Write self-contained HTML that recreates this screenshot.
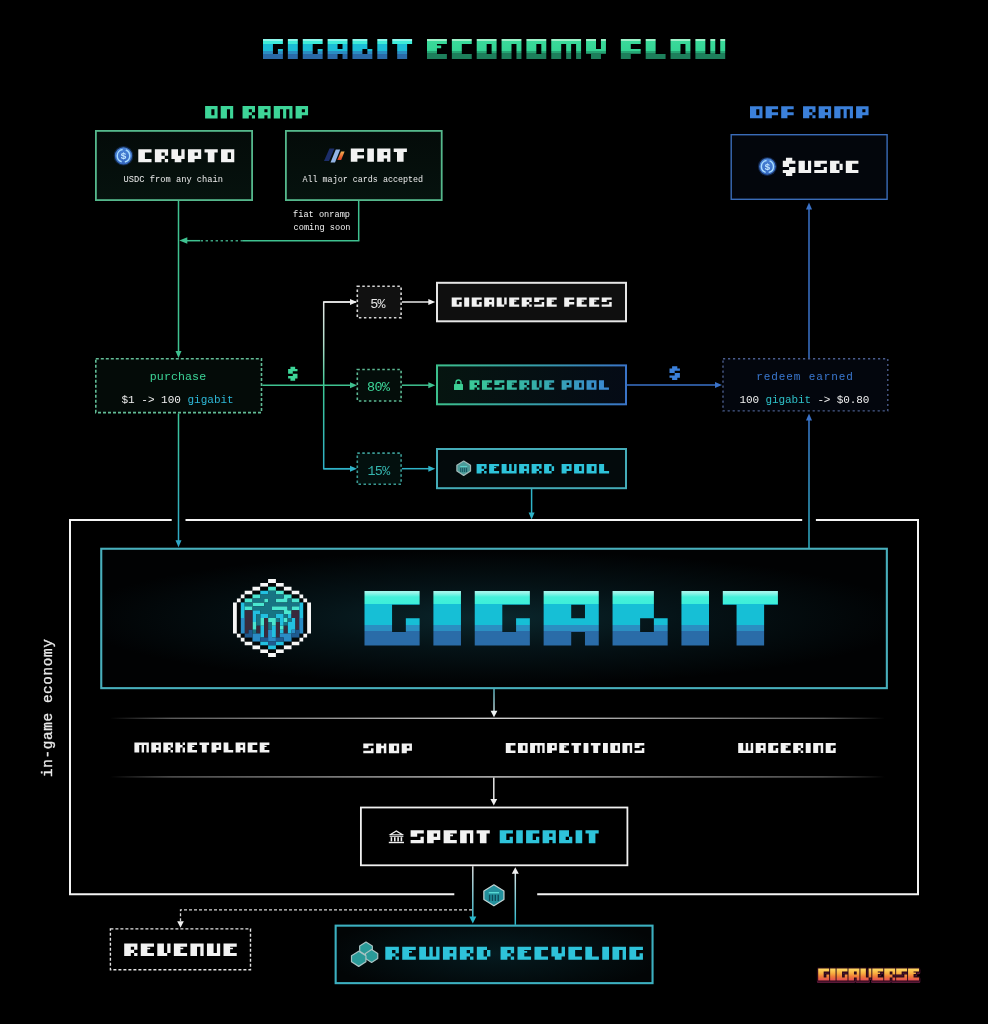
<!DOCTYPE html>
<html><head><meta charset="utf-8"><title>Gigabit Economy Flow</title>
<style>
html,body{margin:0;padding:0;background:#000;width:988px;height:1024px;overflow:hidden;}
svg{display:block;font-family:"Liberation Mono",monospace;will-change:transform;}
</style></head><body>
<svg width="988" height="1024" viewBox="0 0 988 1024" font-family="Liberation Mono">
<defs>
<linearGradient id="gCyanT" gradientUnits="userSpaceOnUse" x1="0" y1="39" x2="0" y2="59">
 <stop offset="0" stop-color="#8ff5ea"/><stop offset="0.12" stop-color="#8ff5ea"/>
 <stop offset="0.12" stop-color="#3eecd9"/><stop offset="0.26" stop-color="#3eecd9"/>
 <stop offset="0.26" stop-color="#1bbdd6"/><stop offset="0.62" stop-color="#1bbdd6"/>
 <stop offset="0.62" stop-color="#2a8dc2"/><stop offset="0.74" stop-color="#2a8dc2"/>
 <stop offset="0.74" stop-color="#2a6aa8"/><stop offset="1" stop-color="#2a6aa8"/>
</linearGradient>
<linearGradient id="gGreenT" gradientUnits="userSpaceOnUse" x1="0" y1="39" x2="0" y2="59">
 <stop offset="0" stop-color="#9ef0c8"/><stop offset="0.12" stop-color="#9ef0c8"/>
 <stop offset="0.12" stop-color="#3ad99a"/><stop offset="0.58" stop-color="#34d494"/>
 <stop offset="0.58" stop-color="#25a674"/><stop offset="0.72" stop-color="#25a674"/>
 <stop offset="0.72" stop-color="#1d7f5b"/><stop offset="1" stop-color="#1d7f5b"/>
</linearGradient>
<linearGradient id="gCyanB" gradientUnits="userSpaceOnUse" x1="0" y1="591" x2="0" y2="645.6">
 <stop offset="0" stop-color="#a6f7ee"/><stop offset="0.03" stop-color="#9af5ea"/>
 <stop offset="0.11" stop-color="#44f0da"/><stop offset="0.245" stop-color="#3cefd9"/>
 <stop offset="0.245" stop-color="#16bfd6"/><stop offset="0.625" stop-color="#16bfd6"/>
 <stop offset="0.625" stop-color="#2a8fc2"/><stop offset="0.74" stop-color="#2a8fc2"/>
 <stop offset="0.74" stop-color="#2a6ca8"/><stop offset="1" stop-color="#2a6ca8"/>
</linearGradient>
<linearGradient id="gResText" gradientUnits="userSpaceOnUse" x1="455" y1="0" x2="610" y2="0">
 <stop offset="0" stop-color="#3ccf94"/><stop offset="0.5" stop-color="#35b0a8"/><stop offset="1" stop-color="#3a86d2"/>
</linearGradient>
<linearGradient id="gResBorder" gradientUnits="userSpaceOnUse" x1="436" y1="0" x2="627" y2="0">
 <stop offset="0" stop-color="#3cbf8c"/><stop offset="0.5" stop-color="#36a0a8"/><stop offset="1" stop-color="#3a74c8"/>
</linearGradient>
<linearGradient id="gResFill" gradientUnits="userSpaceOnUse" x1="436" y1="0" x2="627" y2="0">
 <stop offset="0" stop-color="#061510"/><stop offset="1" stop-color="#050b16"/>
</linearGradient>
<radialGradient id="gGigaFill" gradientUnits="userSpaceOnUse" cx="494" cy="618" r="420" gradientTransform="translate(494 618) scale(1 0.16) translate(-494 -618)">
 <stop offset="0" stop-color="#0a262c"/><stop offset="0.45" stop-color="#051317"/><stop offset="1" stop-color="#010203"/>
</radialGradient>
<radialGradient id="gRecFill" gradientUnits="userSpaceOnUse" cx="494" cy="954" r="170" gradientTransform="translate(494 954) scale(1 0.25) translate(-494 -954)">
 <stop offset="0" stop-color="#051a1f"/><stop offset="1" stop-color="#020506"/>
</radialGradient>
<linearGradient id="gSep" gradientUnits="userSpaceOnUse" x1="110" y1="0" x2="885" y2="0">
 <stop offset="0" stop-color="#666" stop-opacity="0"/><stop offset="0.08" stop-color="#5a5a5a"/><stop offset="0.5" stop-color="#d0d0d0"/>
 <stop offset="0.92" stop-color="#5a5a5a"/><stop offset="1" stop-color="#666" stop-opacity="0"/>
</linearGradient>
<linearGradient id="gV323" gradientUnits="userSpaceOnUse" x1="0" y1="302" x2="0" y2="469">
 <stop offset="0" stop-color="#e8e8e8"/><stop offset="0.25" stop-color="#b0e0cc"/><stop offset="0.5" stop-color="#3cc894"/><stop offset="1" stop-color="#2fb0c8"/>
</linearGradient>
<linearGradient id="gV178" gradientUnits="userSpaceOnUse" x1="0" y1="413" x2="0" y2="547">
 <stop offset="0" stop-color="#3cc59a"/><stop offset="1" stop-color="#2fa8c8"/>
</linearGradient>
<linearGradient id="gV809" gradientUnits="userSpaceOnUse" x1="0" y1="548" x2="0" y2="414">
 <stop offset="0" stop-color="#2fb0c4"/><stop offset="1" stop-color="#3a78d0"/>
</linearGradient>
<linearGradient id="gV473" gradientUnits="userSpaceOnUse" x1="0" y1="866" x2="0" y2="923">
 <stop offset="0" stop-color="#e0e0e0"/><stop offset="1" stop-color="#2ab8cc"/>
</linearGradient>
<linearGradient id="gV515" gradientUnits="userSpaceOnUse" x1="0" y1="924" x2="0" y2="868">
 <stop offset="0" stop-color="#2ab8cc"/><stop offset="1" stop-color="#e8e8e8"/>
</linearGradient>
<linearGradient id="gV494" gradientUnits="userSpaceOnUse" x1="0" y1="689" x2="0" y2="718">
 <stop offset="0" stop-color="#5ab0bc"/><stop offset="1" stop-color="#d8e0e0"/>
</linearGradient>
<linearGradient id="gBoxG" x1="0" y1="0" x2="0" y2="1">
 <stop offset="0" stop-color="#040b09"/><stop offset="1" stop-color="#06120e"/>
</linearGradient>
<linearGradient id="gLogo" gradientUnits="userSpaceOnUse" x1="0" y1="969" x2="0" y2="981">
 <stop offset="0" stop-color="#ffd860"/><stop offset="0.35" stop-color="#f8b040"/><stop offset="0.65" stop-color="#f07838"/><stop offset="1" stop-color="#e04858"/>
</linearGradient>
<linearGradient id="gFiatO" x1="0" y1="0" x2="0" y2="1">
 <stop offset="0" stop-color="#f4b050"/><stop offset="1" stop-color="#e03a20"/>
</linearGradient>
<linearGradient id="gUsdc" x1="0" y1="0" x2="0" y2="1">
 <stop offset="0" stop-color="#4a84d8"/><stop offset="1" stop-color="#3568c0"/>
</linearGradient>
</defs>
<rect width="988" height="1024" fill="#000"/>
<path d="M263 39H282.88V44H263ZM263 44H272.94V49H263ZM263 49H272.94V54H263ZM277.91 49H282.88V54H277.91ZM263 54H282.88V59H263ZM287.85 39H297.79V44H287.85ZM287.85 44H297.79V49H287.85ZM287.85 49H297.79V54H287.85ZM287.85 54H297.79V59H287.85ZM302.76 39H322.64V44H302.76ZM302.76 44H312.7V49H302.76ZM302.76 49H312.7V54H302.76ZM317.67 49H322.64V54H317.67ZM302.76 54H322.64V59H302.76ZM327.61 39H347.49V44H327.61ZM327.61 44H337.55V49H327.61ZM342.52 44H347.49V49H342.52ZM327.61 49H347.49V54H327.61ZM327.61 54H337.55V59H327.61ZM342.52 54H347.49V59H342.52ZM352.46 39H367.37V44H352.46ZM352.46 44H367.37V49H352.46ZM352.46 49H362.4V54H352.46ZM367.37 49H372.34V54H367.37ZM352.46 54H372.34V59H352.46ZM377.31 39H387.25V44H377.31ZM377.31 44H387.25V49H377.31ZM377.31 49H387.25V54H377.31ZM377.31 54H387.25V59H377.31ZM392.22 39H412.1V44H392.22ZM397.19 44H407.13V49H397.19ZM397.19 49H407.13V54H397.19ZM397.19 54H407.13V59H397.19Z" fill="url(#gCyanT)" />
<path d="M427.01 39H446.89V44H427.01ZM427.01 44H436.95V49H427.01ZM427.01 49H436.95V54H427.01ZM427.01 54H446.89V59H427.01ZM436.95 45.5H441.17V48.25H436.95ZM451.86 39H471.74V44H451.86ZM451.86 44H461.8V49H451.86ZM451.86 49H461.8V54H451.86ZM451.86 54H471.74V59H451.86ZM476.71 39H496.59V44H476.71ZM476.71 44H486.65V49H476.71ZM491.62 44H496.59V49H491.62ZM476.71 49H486.65V54H476.71ZM491.62 49H496.59V54H491.62ZM476.71 54H496.59V59H476.71ZM501.56 39H521.44V44H501.56ZM501.56 44H511.5V49H501.56ZM516.47 44H521.44V49H516.47ZM501.56 49H511.5V54H501.56ZM516.47 49H521.44V54H516.47ZM501.56 54H511.5V59H501.56ZM516.47 54H521.44V59H516.47ZM526.41 39H546.29V44H526.41ZM526.41 44H536.35V49H526.41ZM541.32 44H546.29V49H541.32ZM526.41 49H536.35V54H526.41ZM541.32 49H546.29V54H541.32ZM526.41 54H546.29V59H526.41ZM551.26 39H581.08V44H551.26ZM551.26 44H561.2V49H551.26ZM566.17 44H571.14V49H566.17ZM576.11 44H581.08V49H576.11ZM551.26 49H561.2V54H551.26ZM566.17 49H571.14V54H566.17ZM576.11 49H581.08V54H576.11ZM551.26 54H561.2V59H551.26ZM566.17 54H571.14V59H566.17ZM576.11 54H581.08V59H576.11ZM586.05 39H595.99V44H586.05ZM600.96 39H605.93V44H600.96ZM586.05 44H595.99V49H586.05ZM600.96 44H605.93V49H600.96ZM586.05 49H605.93V54H586.05ZM591.02 54H600.96V59H591.02ZM620.84 39H640.72V44H620.84ZM620.84 44H630.78V49H620.84ZM620.84 49H640.72V54H620.84ZM620.84 54H630.78V59H620.84ZM645.69 39H655.63V44H645.69ZM645.69 44H655.63V49H645.69ZM645.69 49H655.63V54H645.69ZM645.69 54H665.57V59H645.69ZM670.54 39H690.42V44H670.54ZM670.54 44H680.48V49H670.54ZM685.45 44H690.42V49H685.45ZM670.54 49H680.48V54H670.54ZM685.45 49H690.42V54H685.45ZM670.54 54H690.42V59H670.54ZM695.39 39H705.33V44H695.39ZM710.3 39H715.27V44H710.3ZM720.24 39H725.21V44H720.24ZM695.39 44H705.33V49H695.39ZM710.3 44H715.27V49H710.3ZM720.24 44H725.21V49H720.24ZM695.39 49H705.33V54H695.39ZM710.3 49H715.27V54H710.3ZM720.24 49H725.21V54H720.24ZM695.39 54H725.21V59H695.39Z" fill="url(#gGreenT)" />
<path d="M205.1 106.1H217.58V109.18H205.1ZM205.1 109.18H211.34V112.26H205.1ZM214.46 109.18H217.58V112.26H214.46ZM205.1 112.26H211.34V115.34H205.1ZM214.46 112.26H217.58V115.34H214.46ZM205.1 115.34H217.58V118.42H205.1ZM220.7 106.1H233.18V109.18H220.7ZM220.7 109.18H226.94V112.26H220.7ZM230.06 109.18H233.18V112.26H230.06ZM220.7 112.26H226.94V115.34H220.7ZM230.06 112.26H233.18V115.34H230.06ZM220.7 115.34H226.94V118.42H220.7ZM230.06 115.34H233.18V118.42H230.06ZM242.54 106.1H255.02V109.18H242.54ZM242.54 109.18H248.78V112.26H242.54ZM251.9 109.18H255.02V112.26H251.9ZM242.54 112.26H251.9V115.34H242.54ZM242.54 115.34H248.78V118.42H242.54ZM251.9 115.34H255.02V118.42H251.9ZM258.14 106.1H270.62V109.18H258.14ZM258.14 109.18H264.38V112.26H258.14ZM267.5 109.18H270.62V112.26H267.5ZM258.14 112.26H270.62V115.34H258.14ZM258.14 115.34H264.38V118.42H258.14ZM267.5 115.34H270.62V118.42H267.5ZM273.74 106.1H292.46V109.18H273.74ZM273.74 109.18H279.98V112.26H273.74ZM283.1 109.18H286.22V112.26H283.1ZM289.34 109.18H292.46V112.26H289.34ZM273.74 112.26H279.98V115.34H273.74ZM283.1 112.26H286.22V115.34H283.1ZM289.34 112.26H292.46V115.34H289.34ZM273.74 115.34H279.98V118.42H273.74ZM283.1 115.34H286.22V118.42H283.1ZM289.34 115.34H292.46V118.42H289.34ZM295.58 106.1H308.06V109.18H295.58ZM295.58 109.18H301.82V112.26H295.58ZM304.94 109.18H308.06V112.26H304.94ZM295.58 112.26H308.06V115.34H295.58ZM295.58 115.34H301.82V118.42H295.58Z" fill="#3dd598" />
<path d="M750 106.2H762.48V109.2H750ZM750 109.2H756.24V112.2H750ZM759.36 109.2H762.48V112.2H759.36ZM750 112.2H756.24V115.2H750ZM759.36 112.2H762.48V115.2H759.36ZM750 115.2H762.48V118.2H750ZM765.6 106.2H778.08V109.2H765.6ZM765.6 109.2H771.84V112.2H765.6ZM765.6 112.2H778.08V115.2H765.6ZM765.6 115.2H771.84V118.2H765.6ZM781.2 106.2H793.68V109.2H781.2ZM781.2 109.2H787.44V112.2H781.2ZM781.2 112.2H793.68V115.2H781.2ZM781.2 115.2H787.44V118.2H781.2ZM803.04 106.2H815.52V109.2H803.04ZM803.04 109.2H809.28V112.2H803.04ZM812.4 109.2H815.52V112.2H812.4ZM803.04 112.2H812.4V115.2H803.04ZM803.04 115.2H809.28V118.2H803.04ZM812.4 115.2H815.52V118.2H812.4ZM818.64 106.2H831.12V109.2H818.64ZM818.64 109.2H824.88V112.2H818.64ZM828 109.2H831.12V112.2H828ZM818.64 112.2H831.12V115.2H818.64ZM818.64 115.2H824.88V118.2H818.64ZM828 115.2H831.12V118.2H828ZM834.24 106.2H852.96V109.2H834.24ZM834.24 109.2H840.48V112.2H834.24ZM843.6 109.2H846.72V112.2H843.6ZM849.84 109.2H852.96V112.2H849.84ZM834.24 112.2H840.48V115.2H834.24ZM843.6 112.2H846.72V115.2H843.6ZM849.84 112.2H852.96V115.2H849.84ZM834.24 115.2H840.48V118.2H834.24ZM843.6 115.2H846.72V118.2H843.6ZM849.84 115.2H852.96V118.2H849.84ZM856.08 106.2H868.56V109.2H856.08ZM856.08 109.2H862.32V112.2H856.08ZM865.44 109.2H868.56V112.2H865.44ZM856.08 112.2H868.56V115.2H856.08ZM856.08 115.2H862.32V118.2H856.08Z" fill="#3b80da" />
<rect x="95.9" y="130.9" width="156.2" height="69.2" fill="url(#gBoxG)" stroke="#55b88c" stroke-width="1.8" />
<path d="M138.3 149.2H151.54V152.45H138.3ZM138.3 152.45H144.92V155.7H138.3ZM138.3 155.7H144.92V158.95H138.3ZM138.3 158.95H151.54V162.2H138.3ZM154.85 149.2H168.09V152.45H154.85ZM154.85 152.45H161.47V155.7H154.85ZM164.78 152.45H168.09V155.7H164.78ZM154.85 155.7H164.78V158.95H154.85ZM154.85 158.95H161.47V162.2H154.85ZM164.78 158.95H168.09V162.2H164.78ZM171.4 149.2H178.02V152.45H171.4ZM181.33 149.2H184.64V152.45H181.33ZM171.4 152.45H178.02V155.7H171.4ZM181.33 152.45H184.64V155.7H181.33ZM171.4 155.7H184.64V158.95H171.4ZM174.71 158.95H181.33V162.2H174.71ZM187.95 149.2H201.19V152.45H187.95ZM187.95 152.45H194.57V155.7H187.95ZM197.88 152.45H201.19V155.7H197.88ZM187.95 155.7H201.19V158.95H187.95ZM187.95 158.95H194.57V162.2H187.95ZM204.5 149.2H217.74V152.45H204.5ZM207.81 152.45H214.43V155.7H207.81ZM207.81 155.7H214.43V158.95H207.81ZM207.81 158.95H214.43V162.2H207.81ZM221.05 149.2H234.29V152.45H221.05ZM221.05 152.45H227.67V155.7H221.05ZM230.98 152.45H234.29V155.7H230.98ZM221.05 155.7H227.67V158.95H221.05ZM230.98 155.7H234.29V158.95H230.98ZM221.05 158.95H234.29V162.2H221.05Z" fill="#f2f2f2" />
<rect x="285.9" y="130.9" width="155.8" height="69.2" fill="url(#gBoxG)" stroke="#55b88c" stroke-width="1.8" />
<path d="M350.8 148.6H364V151.9H350.8ZM350.8 151.9H357.4V155.2H350.8ZM350.8 155.2H364V158.5H350.8ZM350.8 158.5H357.4V161.8H350.8ZM367.3 148.6H373.9V151.9H367.3ZM367.3 151.9H373.9V155.2H367.3ZM367.3 155.2H373.9V158.5H367.3ZM367.3 158.5H373.9V161.8H367.3ZM377.2 148.6H390.4V151.9H377.2ZM377.2 151.9H383.8V155.2H377.2ZM387.1 151.9H390.4V155.2H387.1ZM377.2 155.2H390.4V158.5H377.2ZM377.2 158.5H383.8V161.8H377.2ZM387.1 158.5H390.4V161.8H387.1ZM393.7 148.6H406.9V151.9H393.7ZM397 151.9H403.6V155.2H397ZM397 155.2H403.6V158.5H397ZM397 158.5H403.6V161.8H397Z" fill="#f2f2f2" />
<rect x="731.2" y="134.7" width="155.9" height="64.6" fill="#03060c" stroke="#3a6cb8" stroke-width="1.4" />
<path d="M785.95 157.75H792.25V160.8H785.95ZM782.8 160.8H795.4V163.85H782.8ZM782.8 163.85H789.1V166.9H782.8ZM789.1 166.9H795.4V169.95H789.1ZM782.8 169.95H795.4V173H782.8ZM785.95 173H792.25V176.05H785.95ZM798.55 160.8H804.85V163.85H798.55ZM808 160.8H811.15V163.85H808ZM798.55 163.85H804.85V166.9H798.55ZM808 163.85H811.15V166.9H808ZM798.55 166.9H804.85V169.95H798.55ZM808 166.9H811.15V169.95H808ZM798.55 169.95H811.15V173H798.55ZM814.3 160.8H826.9V163.85H814.3ZM814.3 163.85H820.6V166.9H814.3ZM823.75 166.9H826.9V169.95H823.75ZM814.3 169.95H826.9V173H814.3ZM830.05 160.8H839.5V163.85H830.05ZM830.05 163.85H836.35V166.9H830.05ZM839.5 163.85H842.65V166.9H839.5ZM830.05 166.9H836.35V169.95H830.05ZM839.5 166.9H842.65V169.95H839.5ZM830.05 169.95H839.5V173H830.05ZM845.8 160.8H858.4V163.85H845.8ZM845.8 163.85H852.1V166.9H845.8ZM845.8 166.9H852.1V169.95H845.8ZM845.8 169.95H858.4V173H845.8Z" fill="#f2f2f2" />
<circle cx="123.5" cy="155.8" r="9.8" fill="#2a5cb8" opacity="0.35"/><circle cx="123.5" cy="155.8" r="8.6" fill="url(#gUsdc)"/><circle cx="123.5" cy="155.8" r="6.28" fill="none" stroke="#a8dcff" stroke-width="1.46" stroke-dasharray="16.44 3.29" stroke-dashoffset="8.22"/><text x="123.5" y="159.24" font-size="9.89" fill="#c0e6ff" text-anchor="middle" font-family="Liberation Sans" font-weight="bold">$</text>
<circle cx="767.4" cy="166.5" r="9.5" fill="#2a5cb8" opacity="0.35"/><circle cx="767.4" cy="166.5" r="8.3" fill="url(#gUsdc)"/><circle cx="767.4" cy="166.5" r="6.06" fill="none" stroke="#a8dcff" stroke-width="1.41" stroke-dasharray="15.86 3.17" stroke-dashoffset="7.93"/><text x="767.4" y="169.82" font-size="9.54" fill="#c0e6ff" text-anchor="middle" font-family="Liberation Sans" font-weight="bold">$</text>
<polygon points="324,161 329,161 334.5,148.5 329.5,148.5" fill="#1c2e6a"/><polygon points="330.5,162.5 335,162.5 340.2,149.5 335.8,149.5" fill="#93b4e6"/><polygon points="337.3,160 341.2,160 344.6,151.5 341,151.5" fill="url(#gFiatO)"/>
<text x="173.3" y="181.8" font-size="8.7" fill="#ececec" text-anchor="middle" letter-spacing="0.02" >USDC from any chain</text>
<text x="362.8" y="181.8" font-size="8.4" fill="#ececec" text-anchor="middle" letter-spacing="0" >All major cards accepted</text>
<text x="350" y="217.3" font-size="8.6" fill="#f2f2f2" text-anchor="end" letter-spacing="0.02" >fiat onramp</text>
<text x="350.5" y="230.4" font-size="8.6" fill="#f2f2f2" text-anchor="end" letter-spacing="0.02" >coming soon</text>
<line x1="178.5" y1="201" x2="178.5" y2="352" stroke="#3fc190" stroke-width="1.5" />
<polygon points="178.5,358 175.5,351 181.5,351" fill="#3fc190"/>
<line x1="358.7" y1="201" x2="358.7" y2="240.5" stroke="#3fc190" stroke-width="1.5" />
<line x1="359.4" y1="240.7" x2="243" y2="240.7" stroke="#3fc190" stroke-width="1.5" />
<line x1="243" y1="240.7" x2="200" y2="240.7" stroke="#3aa07e" stroke-width="1.5" stroke-dasharray="2.4 2.6"/>
<line x1="200" y1="240.7" x2="184" y2="240.7" stroke="#3fc190" stroke-width="1.5" />
<polygon points="179.3,240.5 187.3,237.25 187.3,243.75" fill="#3fc190"/>
<rect x="95.8" y="358.8" width="165.7" height="53.8" fill="#040b08" stroke="#62bc96" stroke-width="1.6" stroke-dasharray="3 2"/>
<text x="178" y="380.4" font-size="11.6" fill="#3dd598" text-anchor="middle" letter-spacing="0.1" >purchase</text>
<text x="121.5" y="403.2" font-size="11" fill="#f0f0f0" text-anchor="start" letter-spacing="0" >$1 -&gt; 100 <tspan fill="#2eb8d8">gigabit</tspan></text>
<line x1="262.3" y1="385.3" x2="350" y2="385.3" stroke="#3fc190" stroke-width="1.5" />
<polygon points="357,385.3 350,382.3 350,388.3" fill="#3fc190"/>
<path d="M290.45 366.63H295.15V369H290.45ZM288.1 369H297.5V371.37H288.1ZM288.1 371.37H292.8V373.74H288.1ZM292.8 373.74H297.5V376.11H292.8ZM288.1 376.11H297.5V378.48H288.1ZM290.45 378.48H295.15V380.85H290.45Z" fill="#3dd598" />
<path d="M356 302 H323.7 V468.7 H350" fill="none" stroke="url(#gV323)" stroke-width="1.5"/>
<line x1="323.7" y1="302" x2="350" y2="302" stroke="#e8e8e8" stroke-width="1.5" />
<line x1="323.7" y1="468.7" x2="350" y2="468.7" stroke="#2fb3c8" stroke-width="1.5" />
<polygon points="357,302 350,299 350,305" fill="#eeeeee"/>
<polygon points="357,468.7 350,465.7 350,471.7" fill="#2fb3c8"/>
<rect x="357.3" y="286.3" width="43.8" height="31.5" fill="#111111" stroke="#d8d8d8" stroke-width="1.6" stroke-dasharray="2.5 2.5"/>
<rect x="357.3" y="369.5" width="43.8" height="31.5" fill="#040d0a" stroke="#5cb892" stroke-width="1.6" stroke-dasharray="2.5 2.5"/>
<rect x="357.3" y="453.1" width="43.8" height="31.1" fill="#03100e" stroke="#3a9a94" stroke-width="1.6" stroke-dasharray="2.5 2.5"/>
<text x="377.6" y="308.3" font-size="13.4" fill="#e6e6e6" text-anchor="middle" letter-spacing="-0.6" >5%</text>
<text x="378.2" y="391.3" font-size="13.4" fill="#3dd598" text-anchor="middle" letter-spacing="-0.6" >80%</text>
<text x="378.6" y="474.8" font-size="13.4" fill="#35b5ae" text-anchor="middle" letter-spacing="-0.6" >15%</text>
<line x1="401.9" y1="302" x2="429" y2="302" stroke="#e8e8e8" stroke-width="1.5" />
<polygon points="435.3,302 428.3,299 428.3,305" fill="#f0f0f0"/>
<line x1="401.9" y1="385.2" x2="429" y2="385.2" stroke="#3fc190" stroke-width="1.5" />
<polygon points="435.3,385.2 428.3,382.2 428.3,388.2" fill="#3fc190"/>
<line x1="401.9" y1="468.7" x2="429" y2="468.7" stroke="#2fb3c8" stroke-width="1.5" />
<polygon points="435.3,468.7 428.3,465.7 428.3,471.7" fill="#2fb3c8"/>
<rect x="437" y="282.8" width="189" height="38.5" fill="#0f0f0f" stroke="#e6e6e6" stroke-width="2" />
<path d="M451.7 297.4H461.7V299.75H451.7ZM451.7 299.75H456.7V302.1H451.7ZM451.7 302.1H456.7V304.45H451.7ZM459.2 302.1H461.7V304.45H459.2ZM451.7 304.45H461.7V306.8H451.7ZM464.2 297.4H469.2V299.75H464.2ZM464.2 299.75H469.2V302.1H464.2ZM464.2 302.1H469.2V304.45H464.2ZM464.2 304.45H469.2V306.8H464.2ZM471.7 297.4H481.7V299.75H471.7ZM471.7 299.75H476.7V302.1H471.7ZM471.7 302.1H476.7V304.45H471.7ZM479.2 302.1H481.7V304.45H479.2ZM471.7 304.45H481.7V306.8H471.7ZM484.2 297.4H494.2V299.75H484.2ZM484.2 299.75H489.2V302.1H484.2ZM491.7 299.75H494.2V302.1H491.7ZM484.2 302.1H494.2V304.45H484.2ZM484.2 304.45H489.2V306.8H484.2ZM491.7 304.45H494.2V306.8H491.7ZM496.7 297.4H501.7V299.75H496.7ZM504.2 297.4H506.7V299.75H504.2ZM496.7 299.75H501.7V302.1H496.7ZM504.2 299.75H506.7V302.1H504.2ZM496.7 302.1H501.7V304.45H496.7ZM504.2 302.1H506.7V304.45H504.2ZM496.7 304.45H504.2V306.8H496.7ZM509.2 297.4H519.2V299.75H509.2ZM509.2 299.75H514.2V302.1H509.2ZM509.2 302.1H514.2V304.45H509.2ZM509.2 304.45H519.2V306.8H509.2ZM514.2 300.45H516.33V301.75H514.2ZM521.7 297.4H531.7V299.75H521.7ZM521.7 299.75H526.7V302.1H521.7ZM529.2 299.75H531.7V302.1H529.2ZM521.7 302.1H529.2V304.45H521.7ZM521.7 304.45H526.7V306.8H521.7ZM529.2 304.45H531.7V306.8H529.2ZM534.2 297.4H544.2V299.75H534.2ZM534.2 299.75H539.2V302.1H534.2ZM541.7 302.1H544.2V304.45H541.7ZM534.2 304.45H544.2V306.8H534.2ZM546.7 297.4H556.7V299.75H546.7ZM546.7 299.75H551.7V302.1H546.7ZM546.7 302.1H551.7V304.45H546.7ZM546.7 304.45H556.7V306.8H546.7ZM551.7 300.45H553.83V301.75H551.7ZM564.2 297.4H574.2V299.75H564.2ZM564.2 299.75H569.2V302.1H564.2ZM564.2 302.1H574.2V304.45H564.2ZM564.2 304.45H569.2V306.8H564.2ZM576.7 297.4H586.7V299.75H576.7ZM576.7 299.75H581.7V302.1H576.7ZM576.7 302.1H581.7V304.45H576.7ZM576.7 304.45H586.7V306.8H576.7ZM581.7 300.45H583.83V301.75H581.7ZM589.2 297.4H599.2V299.75H589.2ZM589.2 299.75H594.2V302.1H589.2ZM589.2 302.1H594.2V304.45H589.2ZM589.2 304.45H599.2V306.8H589.2ZM594.2 300.45H596.33V301.75H594.2ZM601.7 297.4H611.7V299.75H601.7ZM601.7 299.75H606.7V302.1H601.7ZM609.2 302.1H611.7V304.45H609.2ZM601.7 304.45H611.7V306.8H601.7Z" fill="#f2f2f2" />
<rect x="437" y="365.4" width="189" height="38.9" fill="url(#gResFill)" stroke="url(#gResBorder)" stroke-width="2" />
<path d="M469.5 380.3H479.46V382.68H469.5ZM469.5 382.68H474.48V385.06H469.5ZM476.97 382.68H479.46V385.06H476.97ZM469.5 385.06H476.97V387.44H469.5ZM469.5 387.44H474.48V389.82H469.5ZM476.97 387.44H479.46V389.82H476.97ZM481.95 380.3H491.91V382.68H481.95ZM481.95 382.68H486.93V385.06H481.95ZM481.95 385.06H486.93V387.44H481.95ZM481.95 387.44H491.91V389.82H481.95ZM486.93 383.39H489.05V384.7H486.93ZM494.4 380.3H504.36V382.68H494.4ZM494.4 382.68H499.38V385.06H494.4ZM501.87 385.06H504.36V387.44H501.87ZM494.4 387.44H504.36V389.82H494.4ZM506.85 380.3H516.81V382.68H506.85ZM506.85 382.68H511.83V385.06H506.85ZM506.85 385.06H511.83V387.44H506.85ZM506.85 387.44H516.81V389.82H506.85ZM511.83 383.39H513.95V384.7H511.83ZM519.3 380.3H529.26V382.68H519.3ZM519.3 382.68H524.28V385.06H519.3ZM526.77 382.68H529.26V385.06H526.77ZM519.3 385.06H526.77V387.44H519.3ZM519.3 387.44H524.28V389.82H519.3ZM526.77 387.44H529.26V389.82H526.77ZM531.75 380.3H536.73V382.68H531.75ZM539.22 380.3H541.71V382.68H539.22ZM531.75 382.68H536.73V385.06H531.75ZM539.22 382.68H541.71V385.06H539.22ZM531.75 385.06H536.73V387.44H531.75ZM539.22 385.06H541.71V387.44H539.22ZM531.75 387.44H539.22V389.82H531.75ZM544.2 380.3H554.16V382.68H544.2ZM544.2 382.68H549.18V385.06H544.2ZM544.2 385.06H549.18V387.44H544.2ZM544.2 387.44H554.16V389.82H544.2ZM549.18 383.39H551.3V384.7H549.18ZM561.63 380.3H571.59V382.68H561.63ZM561.63 382.68H566.61V385.06H561.63ZM569.1 382.68H571.59V385.06H569.1ZM561.63 385.06H571.59V387.44H561.63ZM561.63 387.44H566.61V389.82H561.63ZM574.08 380.3H584.04V382.68H574.08ZM574.08 382.68H579.06V385.06H574.08ZM581.55 382.68H584.04V385.06H581.55ZM574.08 385.06H579.06V387.44H574.08ZM581.55 385.06H584.04V387.44H581.55ZM574.08 387.44H584.04V389.82H574.08ZM586.53 380.3H596.49V382.68H586.53ZM586.53 382.68H591.51V385.06H586.53ZM594 382.68H596.49V385.06H594ZM586.53 385.06H591.51V387.44H586.53ZM594 385.06H596.49V387.44H594ZM586.53 387.44H596.49V389.82H586.53ZM598.98 380.3H603.96V382.68H598.98ZM598.98 382.68H603.96V385.06H598.98ZM598.98 385.06H603.96V387.44H598.98ZM598.98 387.44H608.94V389.82H598.98Z" fill="url(#gResText)" />
<g fill="#3ccf94"><rect x="454" y="384" width="9" height="6" rx="0.5"/><path d="M456 384.5 V382.5 A2.5 2.5 0 0 1 461 382.5 V384.5" fill="none" stroke="#3ccf94" stroke-width="1.4"/></g>
<rect x="437" y="449" width="189" height="39.2" fill="#030a0c" stroke="#44acb8" stroke-width="2" />
<path d="M476.6 463.9H486.6V466.28H476.6ZM476.6 466.28H481.6V468.66H476.6ZM484.1 466.28H486.6V468.66H484.1ZM476.6 468.66H484.1V471.04H476.6ZM476.6 471.04H481.6V473.42H476.6ZM484.1 471.04H486.6V473.42H484.1ZM489.1 463.9H499.1V466.28H489.1ZM489.1 466.28H494.1V468.66H489.1ZM489.1 468.66H494.1V471.04H489.1ZM489.1 471.04H499.1V473.42H489.1ZM494.1 466.99H496.23V468.3H494.1ZM501.6 463.9H506.6V466.28H501.6ZM509.1 463.9H511.6V466.28H509.1ZM514.1 463.9H516.6V466.28H514.1ZM501.6 466.28H506.6V468.66H501.6ZM509.1 466.28H511.6V468.66H509.1ZM514.1 466.28H516.6V468.66H514.1ZM501.6 468.66H506.6V471.04H501.6ZM509.1 468.66H511.6V471.04H509.1ZM514.1 468.66H516.6V471.04H514.1ZM501.6 471.04H516.6V473.42H501.6ZM519.1 463.9H529.1V466.28H519.1ZM519.1 466.28H524.1V468.66H519.1ZM526.6 466.28H529.1V468.66H526.6ZM519.1 468.66H529.1V471.04H519.1ZM519.1 471.04H524.1V473.42H519.1ZM526.6 471.04H529.1V473.42H526.6ZM531.6 463.9H541.6V466.28H531.6ZM531.6 466.28H536.6V468.66H531.6ZM539.1 466.28H541.6V468.66H539.1ZM531.6 468.66H539.1V471.04H531.6ZM531.6 471.04H536.6V473.42H531.6ZM539.1 471.04H541.6V473.42H539.1ZM544.1 463.9H551.6V466.28H544.1ZM544.1 466.28H549.1V468.66H544.1ZM551.6 466.28H554.1V468.66H551.6ZM544.1 468.66H549.1V471.04H544.1ZM551.6 468.66H554.1V471.04H551.6ZM544.1 471.04H551.6V473.42H544.1ZM561.6 463.9H571.6V466.28H561.6ZM561.6 466.28H566.6V468.66H561.6ZM569.1 466.28H571.6V468.66H569.1ZM561.6 468.66H571.6V471.04H561.6ZM561.6 471.04H566.6V473.42H561.6ZM574.1 463.9H584.1V466.28H574.1ZM574.1 466.28H579.1V468.66H574.1ZM581.6 466.28H584.1V468.66H581.6ZM574.1 468.66H579.1V471.04H574.1ZM581.6 468.66H584.1V471.04H581.6ZM574.1 471.04H584.1V473.42H574.1ZM586.6 463.9H596.6V466.28H586.6ZM586.6 466.28H591.6V468.66H586.6ZM594.1 466.28H596.6V468.66H594.1ZM586.6 468.66H591.6V471.04H586.6ZM594.1 468.66H596.6V471.04H594.1ZM586.6 471.04H596.6V473.42H586.6ZM599.1 463.9H604.1V466.28H599.1ZM599.1 466.28H604.1V468.66H599.1ZM599.1 468.66H604.1V471.04H599.1ZM599.1 471.04H609.1V473.42H599.1Z" fill="#2ec3da" />
<line x1="626.8" y1="385.1" x2="716" y2="385.1" stroke="#3a72c8" stroke-width="1.5" />
<polygon points="722,385.1 715,382.1 715,388.1" fill="#3a72c8"/>
<path d="M672.1 366.2H677.3V368.5H672.1ZM669.5 368.5H679.9V370.8H669.5ZM669.5 370.8H674.7V373.1H669.5ZM674.7 373.1H679.9V375.4H674.7ZM669.5 375.4H679.9V377.7H669.5ZM672.1 377.7H677.3V380H672.1Z" fill="#3b80da" />
<rect x="723" y="358.7" width="164.8" height="52.2" fill="#03060d" stroke="#4a5c8c" stroke-width="1.4" stroke-dasharray="2.2 2.8"/>
<text x="804.9" y="380.2" font-size="11" fill="#3a78d0" text-anchor="middle" letter-spacing="0.9" >redeem earned</text>
<text x="739.6" y="403.3" font-size="11" fill="#f0f0f0" text-anchor="start" letter-spacing="-0.12" >100 <tspan fill="#2ec0c8">gigabit</tspan> -&gt; $0.80</text>
<line x1="809" y1="358" x2="809" y2="208" stroke="#3a72c8" stroke-width="1.5" />
<polygon points="809,202.5 806,209.5 812,209.5" fill="#3a72c8"/>
<line x1="809" y1="548" x2="809" y2="419" stroke="url(#gV809)" stroke-width="1.5" />
<polygon points="809,413.5 806,420.5 812,420.5" fill="#3a72c8"/>
<line x1="531.6" y1="488.8" x2="531.6" y2="513" stroke="#2fb3c8" stroke-width="1.5" />
<polygon points="531.6,519.5 528.6,512.5 534.6,512.5" fill="#2fb3c8"/>
<line x1="178.5" y1="413.4" x2="178.5" y2="541" stroke="url(#gV178)" stroke-width="1.5" />
<polygon points="178.5,547.2 175.5,540.2 181.5,540.2" fill="#2fa8c8"/>
<path d="M171.7 520 H70 V894.3 H454.3 M537.2 894.3 H918 V520 H815.9 M802.2 520 H185.5" fill="none" stroke="#f4f4f4" stroke-width="2"/>
<text transform="translate(52.3 777) rotate(-90)" font-size="14.4" fill="#e8e8e8" stroke="#e8e8e8" stroke-width="0.3" letter-spacing="0.6">in-game economy</text>
<rect x="101.25" y="548.75" width="785.6" height="139.4" fill="url(#gGigaFill)" stroke="#48afbc" stroke-width="2.1" />
<path d="M364.5 591H419.62V604.65H364.5ZM364.5 604.65H392.06V618.3H364.5ZM364.5 618.3H392.06V631.95H364.5ZM405.84 618.3H419.62V631.95H405.84ZM364.5 631.95H419.62V645.6H364.5ZM433.4 591H460.96V604.65H433.4ZM433.4 604.65H460.96V618.3H433.4ZM433.4 618.3H460.96V631.95H433.4ZM433.4 631.95H460.96V645.6H433.4ZM474.74 591H529.86V604.65H474.74ZM474.74 604.65H502.3V618.3H474.74ZM474.74 618.3H502.3V631.95H474.74ZM516.08 618.3H529.86V631.95H516.08ZM474.74 631.95H529.86V645.6H474.74ZM543.64 591H598.76V604.65H543.64ZM543.64 604.65H571.2V618.3H543.64ZM584.98 604.65H598.76V618.3H584.98ZM543.64 618.3H598.76V631.95H543.64ZM543.64 631.95H571.2V645.6H543.64ZM584.98 631.95H598.76V645.6H584.98ZM612.54 591H653.88V604.65H612.54ZM612.54 604.65H653.88V618.3H612.54ZM612.54 618.3H640.1V631.95H612.54ZM653.88 618.3H667.66V631.95H653.88ZM612.54 631.95H667.66V645.6H612.54ZM681.44 591H709V604.65H681.44ZM681.44 604.65H709V618.3H681.44ZM681.44 618.3H709V631.95H681.44ZM681.44 631.95H709V645.6H681.44ZM722.78 591H777.9V604.65H722.78ZM736.56 604.65H764.12V618.3H736.56ZM736.56 618.3H764.12V631.95H736.56ZM736.56 631.95H764.12V645.6H736.56Z" fill="url(#gCyanB)" />
<path d="M268.1 579H275.9V582.9H268.1ZM260.3 582.9H283.7V586.8H260.3ZM252.5 586.8H291.5V590.7H252.5ZM244.7 590.7H299.3V594.6H244.7ZM240.8 594.6H303.2V598.5H240.8ZM236.9 598.5H307.1V602.4H236.9ZM233 602.4H311V606.3H233ZM233 606.3H311V610.2H233ZM233 610.2H311V614.1H233ZM233 614.1H311V618H233ZM233 618H311V621.9H233ZM233 621.9H311V625.8H233ZM233 625.8H311V629.7H233ZM233 629.7H311V633.6H233ZM236.9 633.6H307.1V637.5H236.9ZM240.8 637.5H303.2V641.4H240.8ZM244.7 641.4H299.3V645.3H244.7ZM252.5 645.3H291.5V649.2H252.5ZM260.3 649.2H283.7V653.1H260.3ZM268.1 653.1H275.9V657H268.1Z" fill="#0a1a20"/><path d="M268.1 579H275.9V582.9H268.1ZM260.3 582.9H268.1V586.8H260.3ZM275.9 582.9H283.7V586.8H275.9ZM252.5 586.8H260.3V590.7H252.5ZM283.7 586.8H291.5V590.7H283.7ZM244.7 590.7H252.5V594.6H244.7ZM291.5 590.7H299.3V594.6H291.5ZM240.8 594.6H244.7V598.5H240.8ZM299.3 594.6H303.2V598.5H299.3ZM236.9 598.5H240.8V602.4H236.9ZM303.2 598.5H307.1V602.4H303.2ZM233 602.4H236.9V606.3H233ZM307.1 602.4H311V606.3H307.1ZM233 606.3H236.9V610.2H233ZM307.1 606.3H311V610.2H307.1ZM233 610.2H236.9V614.1H233ZM307.1 610.2H311V614.1H307.1ZM233 614.1H236.9V618H233ZM307.1 614.1H311V618H307.1ZM233 618H236.9V621.9H233ZM307.1 618H311V621.9H307.1ZM233 621.9H236.9V625.8H233ZM307.1 621.9H311V625.8H307.1ZM233 625.8H236.9V629.7H233ZM307.1 625.8H311V629.7H307.1ZM233 629.7H236.9V633.6H233ZM307.1 629.7H311V633.6H307.1ZM236.9 633.6H240.8V637.5H236.9ZM303.2 633.6H307.1V637.5H303.2ZM240.8 637.5H244.7V641.4H240.8ZM299.3 637.5H303.2V641.4H299.3ZM244.7 641.4H252.5V645.3H244.7ZM291.5 641.4H299.3V645.3H291.5ZM252.5 645.3H260.3V649.2H252.5ZM283.7 645.3H291.5V649.2H283.7ZM260.3 649.2H268.1V653.1H260.3ZM275.9 649.2H283.7V653.1H275.9ZM268.1 653.1H275.9V657H268.1Z" fill="#f6f6f6"/><path d="M268.1 582.9H275.9V586.8H268.1ZM260.3 586.8H268.1V590.7H260.3ZM275.9 586.8H283.7V590.7H275.9ZM252.5 590.7H260.3V594.6H252.5ZM283.7 590.7H291.5V594.6H283.7ZM244.7 594.6H252.5V598.5H244.7ZM291.5 594.6H299.3V598.5H291.5ZM240.8 598.5H244.7V602.4H240.8ZM299.3 598.5H303.2V602.4H299.3ZM236.9 602.4H240.8V606.3H236.9ZM303.2 602.4H307.1V606.3H303.2ZM236.9 606.3H240.8V610.2H236.9ZM303.2 606.3H307.1V610.2H303.2ZM236.9 610.2H240.8V614.1H236.9ZM303.2 610.2H307.1V614.1H303.2ZM236.9 614.1H240.8V618H236.9ZM303.2 614.1H307.1V618H303.2ZM236.9 618H240.8V621.9H236.9ZM303.2 618H307.1V621.9H303.2ZM236.9 621.9H240.8V625.8H236.9ZM303.2 621.9H307.1V625.8H303.2ZM236.9 625.8H240.8V629.7H236.9ZM303.2 625.8H307.1V629.7H303.2ZM236.9 629.7H240.8V633.6H236.9ZM303.2 629.7H307.1V633.6H303.2ZM240.8 633.6H244.7V637.5H240.8ZM299.3 633.6H303.2V637.5H299.3ZM244.7 637.5H252.5V641.4H244.7ZM291.5 637.5H299.3V641.4H291.5ZM252.5 641.4H260.3V645.3H252.5ZM283.7 641.4H291.5V645.3H283.7ZM260.3 645.3H268.1V649.2H260.3ZM275.9 645.3H283.7V649.2H275.9ZM268.1 649.2H275.9V653.1H268.1Z" fill="#040809"/><path d="M268.1 586.8H275.9V590.7H268.1ZM275.9 590.7H283.7V594.6H275.9ZM252.5 594.6H260.3V598.5H252.5ZM283.7 594.6H291.5V598.5H283.7ZM244.7 598.5H252.5V602.4H244.7ZM264.2 598.5H268.1V602.4H264.2ZM275.9 598.5H287.6V602.4H275.9ZM291.5 598.5H299.3V602.4H291.5ZM252.5 602.4H264.2V606.3H252.5ZM244.7 606.3H252.5V610.2H244.7ZM272 606.3H287.6V610.2H272ZM291.5 606.3H299.3V610.2H291.5ZM283.7 610.2H291.5V614.1H283.7ZM260.3 618H264.2V621.9H260.3ZM268.1 618H275.9V621.9H268.1ZM283.7 618H287.6V621.9H283.7ZM252.5 621.9H256.4V625.8H252.5ZM260.3 621.9H264.2V625.8H260.3ZM272 621.9H275.9V625.8H272ZM252.5 625.8H256.4V629.7H252.5ZM279.8 625.8H283.7V629.7H279.8Z" fill="#4ae6d0"/><path d="M260.3 590.7H268.1V594.6H260.3ZM240.8 602.4H244.7V606.3H240.8ZM299.3 602.4H303.2V606.3H299.3ZM240.8 606.3H244.7V610.2H240.8ZM299.3 606.3H303.2V610.2H299.3ZM240.8 610.2H244.7V614.1H240.8ZM252.5 610.2H260.3V614.1H252.5ZM299.3 610.2H303.2V614.1H299.3ZM240.8 614.1H244.7V618H240.8ZM252.5 614.1H256.4V618H252.5ZM260.3 614.1H268.1V618H260.3ZM275.9 614.1H283.7V618H275.9ZM287.6 614.1H291.5V618H287.6ZM299.3 614.1H303.2V618H299.3ZM252.5 618H256.4V621.9H252.5ZM279.8 618H283.7V621.9H279.8ZM291.5 618H295.4V621.9H291.5ZM279.8 621.9H283.7V625.8H279.8ZM287.6 621.9H295.4V625.8H287.6ZM260.3 625.8H264.2V629.7H260.3ZM272 625.8H275.9V629.7H272ZM287.6 625.8H295.4V629.7H287.6ZM260.3 629.7H264.2V633.6H260.3ZM272 629.7H275.9V633.6H272ZM279.8 629.7H283.7V633.6H279.8ZM287.6 629.7H291.5V633.6H287.6ZM260.3 633.6H264.2V637.5H260.3ZM272 633.6H275.9V637.5H272ZM260.3 641.4H268.1V645.3H260.3ZM275.9 641.4H283.7V645.3H275.9ZM268.1 645.3H275.9V649.2H268.1Z" fill="#22c0e0"/><path d="M268.1 590.7H275.9V594.6H268.1ZM260.3 594.6H283.7V598.5H260.3ZM252.5 598.5H264.2V602.4H252.5ZM268.1 598.5H275.9V602.4H268.1ZM287.6 598.5H291.5V602.4H287.6ZM244.7 602.4H252.5V606.3H244.7ZM264.2 602.4H299.3V606.3H264.2ZM252.5 606.3H272V610.2H252.5ZM287.6 606.3H291.5V610.2H287.6ZM260.3 610.2H283.7V614.1H260.3ZM256.4 614.1H260.3V618H256.4ZM268.1 614.1H275.9V618H268.1ZM283.7 614.1H287.6V618H283.7ZM256.4 618H260.3V621.9H256.4ZM275.9 618H279.8V621.9H275.9ZM287.6 618H291.5V621.9H287.6ZM256.4 621.9H260.3V625.8H256.4ZM268.1 621.9H272V625.8H268.1ZM283.7 621.9H287.6V625.8H283.7ZM268.1 625.8H272V629.7H268.1ZM252.5 629.7H256.4V633.6H252.5Z" fill="#177484"/><path d="M244.7 610.2H252.5V614.1H244.7ZM291.5 610.2H299.3V614.1H291.5ZM244.7 614.1H252.5V618H244.7ZM291.5 614.1H299.3V618H291.5ZM244.7 618H252.5V621.9H244.7ZM264.2 618H268.1V621.9H264.2ZM295.4 618H299.3V621.9H295.4ZM244.7 621.9H252.5V625.8H244.7ZM264.2 621.9H268.1V625.8H264.2ZM275.9 621.9H279.8V625.8H275.9ZM295.4 621.9H299.3V625.8H295.4ZM244.7 625.8H252.5V629.7H244.7ZM256.4 625.8H260.3V629.7H256.4ZM264.2 625.8H268.1V629.7H264.2ZM275.9 625.8H279.8V629.7H275.9ZM283.7 625.8H287.6V629.7H283.7ZM295.4 625.8H299.3V629.7H295.4ZM244.7 629.7H248.6V633.6H244.7ZM256.4 629.7H260.3V633.6H256.4ZM264.2 629.7H268.1V633.6H264.2ZM275.9 629.7H279.8V633.6H275.9ZM283.7 629.7H287.6V633.6H283.7ZM264.2 633.6H268.1V637.5H264.2ZM275.9 633.6H279.8V637.5H275.9Z" fill="#3a2a3c"/><path d="M240.8 618H244.7V621.9H240.8ZM299.3 618H303.2V621.9H299.3ZM240.8 621.9H244.7V625.8H240.8ZM299.3 621.9H303.2V625.8H299.3ZM240.8 625.8H244.7V629.7H240.8ZM299.3 625.8H303.2V629.7H299.3ZM240.8 629.7H244.7V633.6H240.8ZM268.1 629.7H272V633.6H268.1ZM291.5 629.7H295.4V633.6H291.5ZM299.3 629.7H303.2V633.6H299.3ZM252.5 633.6H260.3V637.5H252.5ZM268.1 633.6H272V637.5H268.1ZM279.8 633.6H291.5V637.5H279.8ZM252.5 637.5H260.3V641.4H252.5ZM268.1 637.5H275.9V641.4H268.1ZM283.7 637.5H291.5V641.4H283.7Z" fill="#2a8cc6"/><path d="M248.6 629.7H252.5V633.6H248.6ZM295.4 629.7H299.3V633.6H295.4ZM244.7 633.6H252.5V637.5H244.7ZM291.5 633.6H299.3V637.5H291.5ZM260.3 637.5H268.1V641.4H260.3ZM275.9 637.5H283.7V641.4H275.9ZM268.1 641.4H275.9V645.3H268.1Z" fill="#1f5a90"/>
<rect x="110" y="717.6" width="775" height="1.4" fill="url(#gSep)"/>
<rect x="110" y="776.2" width="775" height="1.4" fill="url(#gSep)"/>
<line x1="494" y1="689" x2="494" y2="711" stroke="url(#gV494)" stroke-width="1.5" />
<polygon points="494,717.3 490.6,710.8 497.4,710.8" fill="#eef2f2"/>
<path d="M134.4 742.4H148.86V744.95H134.4ZM134.4 744.95H139.22V747.5H134.4ZM141.63 744.95H144.04V747.5H141.63ZM146.45 744.95H148.86V747.5H146.45ZM134.4 747.5H139.22V750.05H134.4ZM141.63 747.5H144.04V750.05H141.63ZM146.45 747.5H148.86V750.05H146.45ZM134.4 750.05H139.22V752.6H134.4ZM141.63 750.05H144.04V752.6H141.63ZM146.45 750.05H148.86V752.6H146.45ZM151.27 742.4H160.91V744.95H151.27ZM151.27 744.95H156.09V747.5H151.27ZM158.5 744.95H160.91V747.5H158.5ZM151.27 747.5H160.91V750.05H151.27ZM151.27 750.05H156.09V752.6H151.27ZM158.5 750.05H160.91V752.6H158.5ZM163.32 742.4H172.96V744.95H163.32ZM163.32 744.95H168.14V747.5H163.32ZM170.55 744.95H172.96V747.5H170.55ZM163.32 747.5H170.55V750.05H163.32ZM163.32 750.05H168.14V752.6H163.32ZM170.55 750.05H172.96V752.6H170.55ZM175.37 742.4H180.19V744.95H175.37ZM182.6 742.4H185.01V744.95H182.6ZM175.37 744.95H182.6V747.5H175.37ZM175.37 747.5H180.19V750.05H175.37ZM182.6 747.5H185.01V750.05H182.6ZM175.37 750.05H180.19V752.6H175.37ZM182.6 750.05H185.01V752.6H182.6ZM187.42 742.4H197.06V744.95H187.42ZM187.42 744.95H192.24V747.5H187.42ZM187.42 747.5H192.24V750.05H187.42ZM187.42 750.05H197.06V752.6H187.42ZM192.24 745.72H194.29V747.12H192.24ZM199.47 742.4H209.11V744.95H199.47ZM201.88 744.95H206.7V747.5H201.88ZM201.88 747.5H206.7V750.05H201.88ZM201.88 750.05H206.7V752.6H201.88ZM211.52 742.4H221.16V744.95H211.52ZM211.52 744.95H216.34V747.5H211.52ZM218.75 744.95H221.16V747.5H218.75ZM211.52 747.5H221.16V750.05H211.52ZM211.52 750.05H216.34V752.6H211.52ZM223.57 742.4H228.39V744.95H223.57ZM223.57 744.95H228.39V747.5H223.57ZM223.57 747.5H228.39V750.05H223.57ZM223.57 750.05H233.21V752.6H223.57ZM235.62 742.4H245.26V744.95H235.62ZM235.62 744.95H240.44V747.5H235.62ZM242.85 744.95H245.26V747.5H242.85ZM235.62 747.5H245.26V750.05H235.62ZM235.62 750.05H240.44V752.6H235.62ZM242.85 750.05H245.26V752.6H242.85ZM247.67 742.4H257.31V744.95H247.67ZM247.67 744.95H252.49V747.5H247.67ZM247.67 747.5H252.49V750.05H247.67ZM247.67 750.05H257.31V752.6H247.67ZM259.72 742.4H269.36V744.95H259.72ZM259.72 744.95H264.54V747.5H259.72ZM259.72 747.5H264.54V750.05H259.72ZM259.72 750.05H269.36V752.6H259.72ZM264.54 745.72H266.59V747.12H264.54Z" fill="#f2f2f2" />
<path d="M363.3 743.4H373.54V745.85H363.3ZM363.3 745.85H368.42V748.3H363.3ZM370.98 748.3H373.54V750.75H370.98ZM363.3 750.75H373.54V753.2H363.3ZM376.1 743.4H381.22V745.85H376.1ZM383.78 743.4H386.34V745.85H383.78ZM376.1 745.85H386.34V748.3H376.1ZM376.1 748.3H381.22V750.75H376.1ZM383.78 748.3H386.34V750.75H383.78ZM376.1 750.75H381.22V753.2H376.1ZM383.78 750.75H386.34V753.2H383.78ZM388.9 743.4H399.14V745.85H388.9ZM388.9 745.85H394.02V748.3H388.9ZM396.58 745.85H399.14V748.3H396.58ZM388.9 748.3H394.02V750.75H388.9ZM396.58 748.3H399.14V750.75H396.58ZM388.9 750.75H399.14V753.2H388.9ZM401.7 743.4H411.94V745.85H401.7ZM401.7 745.85H406.82V748.3H401.7ZM409.38 745.85H411.94V748.3H409.38ZM401.7 748.3H411.94V750.75H401.7ZM401.7 750.75H406.82V753.2H401.7Z" fill="#f2f2f2" />
<path d="M505.8 743H515.52V745.5H505.8ZM505.8 745.5H510.66V748H505.8ZM505.8 748H510.66V750.5H505.8ZM505.8 750.5H515.52V753H505.8ZM517.95 743H527.67V745.5H517.95ZM517.95 745.5H522.81V748H517.95ZM525.24 745.5H527.67V748H525.24ZM517.95 748H522.81V750.5H517.95ZM525.24 748H527.67V750.5H525.24ZM517.95 750.5H527.67V753H517.95ZM530.1 743H544.68V745.5H530.1ZM530.1 745.5H534.96V748H530.1ZM537.39 745.5H539.82V748H537.39ZM542.25 745.5H544.68V748H542.25ZM530.1 748H534.96V750.5H530.1ZM537.39 748H539.82V750.5H537.39ZM542.25 748H544.68V750.5H542.25ZM530.1 750.5H534.96V753H530.1ZM537.39 750.5H539.82V753H537.39ZM542.25 750.5H544.68V753H542.25ZM547.11 743H556.83V745.5H547.11ZM547.11 745.5H551.97V748H547.11ZM554.4 745.5H556.83V748H554.4ZM547.11 748H556.83V750.5H547.11ZM547.11 750.5H551.97V753H547.11ZM559.26 743H568.98V745.5H559.26ZM559.26 745.5H564.12V748H559.26ZM559.26 748H564.12V750.5H559.26ZM559.26 750.5H568.98V753H559.26ZM564.12 746.25H566.19V747.62H564.12ZM571.41 743H581.13V745.5H571.41ZM573.84 745.5H578.7V748H573.84ZM573.84 748H578.7V750.5H573.84ZM573.84 750.5H578.7V753H573.84ZM583.56 743H588.42V745.5H583.56ZM583.56 745.5H588.42V748H583.56ZM583.56 748H588.42V750.5H583.56ZM583.56 750.5H588.42V753H583.56ZM590.85 743H600.57V745.5H590.85ZM593.28 745.5H598.14V748H593.28ZM593.28 748H598.14V750.5H593.28ZM593.28 750.5H598.14V753H593.28ZM603 743H607.86V745.5H603ZM603 745.5H607.86V748H603ZM603 748H607.86V750.5H603ZM603 750.5H607.86V753H603ZM610.29 743H620.01V745.5H610.29ZM610.29 745.5H615.15V748H610.29ZM617.58 745.5H620.01V748H617.58ZM610.29 748H615.15V750.5H610.29ZM617.58 748H620.01V750.5H617.58ZM610.29 750.5H620.01V753H610.29ZM622.44 743H632.16V745.5H622.44ZM622.44 745.5H627.3V748H622.44ZM629.73 745.5H632.16V748H629.73ZM622.44 748H627.3V750.5H622.44ZM629.73 748H632.16V750.5H629.73ZM622.44 750.5H627.3V753H622.44ZM629.73 750.5H632.16V753H629.73ZM634.59 743H644.31V745.5H634.59ZM634.59 745.5H639.45V748H634.59ZM641.88 748H644.31V750.5H641.88ZM634.59 750.5H644.31V753H634.59Z" fill="#f2f2f2" />
<path d="M738.2 743.1H743.2V745.55H738.2ZM745.7 743.1H748.2V745.55H745.7ZM750.7 743.1H753.2V745.55H750.7ZM738.2 745.55H743.2V748H738.2ZM745.7 745.55H748.2V748H745.7ZM750.7 745.55H753.2V748H750.7ZM738.2 748H743.2V750.45H738.2ZM745.7 748H748.2V750.45H745.7ZM750.7 748H753.2V750.45H750.7ZM738.2 750.45H753.2V752.9H738.2ZM755.7 743.1H765.7V745.55H755.7ZM755.7 745.55H760.7V748H755.7ZM763.2 745.55H765.7V748H763.2ZM755.7 748H765.7V750.45H755.7ZM755.7 750.45H760.7V752.9H755.7ZM763.2 750.45H765.7V752.9H763.2ZM768.2 743.1H778.2V745.55H768.2ZM768.2 745.55H773.2V748H768.2ZM768.2 748H773.2V750.45H768.2ZM775.7 748H778.2V750.45H775.7ZM768.2 750.45H778.2V752.9H768.2ZM780.7 743.1H790.7V745.55H780.7ZM780.7 745.55H785.7V748H780.7ZM780.7 748H785.7V750.45H780.7ZM780.7 750.45H790.7V752.9H780.7ZM785.7 746.28H787.83V747.63H785.7ZM793.2 743.1H803.2V745.55H793.2ZM793.2 745.55H798.2V748H793.2ZM800.7 745.55H803.2V748H800.7ZM793.2 748H800.7V750.45H793.2ZM793.2 750.45H798.2V752.9H793.2ZM800.7 750.45H803.2V752.9H800.7ZM805.7 743.1H810.7V745.55H805.7ZM805.7 745.55H810.7V748H805.7ZM805.7 748H810.7V750.45H805.7ZM805.7 750.45H810.7V752.9H805.7ZM813.2 743.1H823.2V745.55H813.2ZM813.2 745.55H818.2V748H813.2ZM820.7 745.55H823.2V748H820.7ZM813.2 748H818.2V750.45H813.2ZM820.7 748H823.2V750.45H820.7ZM813.2 750.45H818.2V752.9H813.2ZM820.7 750.45H823.2V752.9H820.7ZM825.7 743.1H835.7V745.55H825.7ZM825.7 745.55H830.7V748H825.7ZM825.7 748H830.7V750.45H825.7ZM833.2 748H835.7V750.45H833.2ZM825.7 750.45H835.7V752.9H825.7Z" fill="#f2f2f2" />
<line x1="493.8" y1="777.6" x2="493.8" y2="800" stroke="#e8e8e8" stroke-width="1.5" />
<polygon points="493.8,805.6 490.4,799.1 497.2,799.1" fill="#f0f0f0"/>
<rect x="360.9" y="807.5" width="266.5" height="57.8" fill="#000000" stroke="#f0f0f0" stroke-width="1.8" />
<path d="M410.6 830.2H423.8V833.45H410.6ZM410.6 833.45H417.2V836.7H410.6ZM420.5 836.7H423.8V839.95H420.5ZM410.6 839.95H423.8V843.2H410.6ZM427.1 830.2H440.3V833.45H427.1ZM427.1 833.45H433.7V836.7H427.1ZM437 833.45H440.3V836.7H437ZM427.1 836.7H440.3V839.95H427.1ZM427.1 839.95H433.7V843.2H427.1ZM443.6 830.2H456.8V833.45H443.6ZM443.6 833.45H450.2V836.7H443.6ZM443.6 836.7H450.2V839.95H443.6ZM443.6 839.95H456.8V843.2H443.6ZM450.2 834.43H453.01V836.21H450.2ZM460.1 830.2H473.3V833.45H460.1ZM460.1 833.45H466.7V836.7H460.1ZM470 833.45H473.3V836.7H470ZM460.1 836.7H466.7V839.95H460.1ZM470 836.7H473.3V839.95H470ZM460.1 839.95H466.7V843.2H460.1ZM470 839.95H473.3V843.2H470ZM476.6 830.2H489.8V833.45H476.6ZM479.9 833.45H486.5V836.7H479.9ZM479.9 836.7H486.5V839.95H479.9ZM479.9 839.95H486.5V843.2H479.9Z" fill="#f2f2f2" />
<path d="M499.7 830.2H512.9V833.45H499.7ZM499.7 833.45H506.3V836.7H499.7ZM499.7 836.7H506.3V839.95H499.7ZM509.6 836.7H512.9V839.95H509.6ZM499.7 839.95H512.9V843.2H499.7ZM516.2 830.2H522.8V833.45H516.2ZM516.2 833.45H522.8V836.7H516.2ZM516.2 836.7H522.8V839.95H516.2ZM516.2 839.95H522.8V843.2H516.2ZM526.1 830.2H539.3V833.45H526.1ZM526.1 833.45H532.7V836.7H526.1ZM526.1 836.7H532.7V839.95H526.1ZM536 836.7H539.3V839.95H536ZM526.1 839.95H539.3V843.2H526.1ZM542.6 830.2H555.8V833.45H542.6ZM542.6 833.45H549.2V836.7H542.6ZM552.5 833.45H555.8V836.7H552.5ZM542.6 836.7H555.8V839.95H542.6ZM542.6 839.95H549.2V843.2H542.6ZM552.5 839.95H555.8V843.2H552.5ZM559.1 830.2H569V833.45H559.1ZM559.1 833.45H569V836.7H559.1ZM559.1 836.7H565.7V839.95H559.1ZM569 836.7H572.3V839.95H569ZM559.1 839.95H572.3V843.2H559.1ZM575.6 830.2H582.2V833.45H575.6ZM575.6 833.45H582.2V836.7H575.6ZM575.6 836.7H582.2V839.95H575.6ZM575.6 839.95H582.2V843.2H575.6ZM585.5 830.2H598.7V833.45H585.5ZM588.8 833.45H595.4V836.7H588.8ZM588.8 836.7H595.4V839.95H588.8ZM588.8 839.95H595.4V843.2H588.8Z" fill="#2ec3da" />
<g fill="#f0f0f0"><polygon points="396.3,830.2 404.2,835 388.6,835"/><rect x="389.6" y="835.6" width="13.8" height="1.2"/><rect x="390.6" y="837.2" width="1.6" height="4.2"/><rect x="394" y="837.2" width="1.6" height="4.2"/><rect x="397.3" y="837.2" width="1.6" height="4.2"/><rect x="400.6" y="837.2" width="1.6" height="4.2"/><rect x="388.8" y="841.8" width="15.2" height="1.4"/></g><polygon points="396.3,831.8 400.5,834.2 392.1,834.2" fill="#000"/>
<line x1="472.8" y1="866.2" x2="472.8" y2="917" stroke="url(#gV473)" stroke-width="1.5" />
<polygon points="472.8,923.5 469.3,916.5 476.3,916.5" fill="#2ab8cc"/>
<line x1="515.3" y1="924.8" x2="515.3" y2="873" stroke="url(#gV515)" stroke-width="1.5" />
<polygon points="515.3,867.2 511.8,873.7 518.8,873.7" fill="#f0f0f0"/>
<polygon points="493.9,884.74 503.94,891.08 503.94,899.52 493.9,905.86 483.86,899.52 483.86,891.08" fill="#23909c" stroke="#c4d4d4" stroke-width="1.2" stroke-linejoin="round"/><g stroke="#0c4a58" stroke-width="1.34"><line x1="489.57" y1="894.78" x2="489.57" y2="900.96"/><line x1="492.46" y1="894.78" x2="492.46" y2="900.96"/><line x1="495.34" y1="894.78" x2="495.34" y2="900.96"/><line x1="498.23" y1="894.78" x2="498.23" y2="900.96"/></g><line x1="488.75" y1="892.72" x2="499.05" y2="892.72" stroke="#5ee0d8" stroke-width="1.24"/>
<polygon points="463.7,461.02 470.52,465.33 470.52,471.07 463.7,475.38 456.88,471.07 456.88,465.33" fill="#4a9a98" stroke="#a0b8b8" stroke-width="1.2" stroke-linejoin="round"/><g stroke="#0c4a58" stroke-width="0.91"><line x1="460.76" y1="467.85" x2="460.76" y2="472.05"/><line x1="462.72" y1="467.85" x2="462.72" y2="472.05"/><line x1="464.68" y1="467.85" x2="464.68" y2="472.05"/><line x1="466.64" y1="467.85" x2="466.64" y2="472.05"/></g><line x1="460.2" y1="466.45" x2="467.2" y2="466.45" stroke="#5ee0d8" stroke-width="0.84"/>
<path d="M472 909.8 H180.5 V922" fill="none" stroke="#d8d8d8" stroke-width="1.3" stroke-dasharray="3 2"/>
<polygon points="180.5,927.8 177.2,921.3 183.8,921.3" fill="#f0f0f0"/>
<rect x="110.4" y="928.9" width="140.1" height="40.8" fill="#000000" stroke="#e4e4e4" stroke-width="1.4" stroke-dasharray="3 2"/>
<path d="M124.2 943.6H137.44V946.7H124.2ZM124.2 946.7H130.82V949.8H124.2ZM134.13 946.7H137.44V949.8H134.13ZM124.2 949.8H134.13V952.9H124.2ZM124.2 952.9H130.82V956H124.2ZM134.13 952.9H137.44V956H134.13ZM140.75 943.6H153.99V946.7H140.75ZM140.75 946.7H147.37V949.8H140.75ZM140.75 949.8H147.37V952.9H140.75ZM140.75 952.9H153.99V956H140.75ZM147.37 947.63H150.18V949.34H147.37ZM157.3 943.6H163.92V946.7H157.3ZM167.23 943.6H170.54V946.7H167.23ZM157.3 946.7H163.92V949.8H157.3ZM167.23 946.7H170.54V949.8H167.23ZM157.3 949.8H163.92V952.9H157.3ZM167.23 949.8H170.54V952.9H167.23ZM157.3 952.9H167.23V956H157.3ZM173.85 943.6H187.09V946.7H173.85ZM173.85 946.7H180.47V949.8H173.85ZM173.85 949.8H180.47V952.9H173.85ZM173.85 952.9H187.09V956H173.85ZM180.47 947.63H183.28V949.34H180.47ZM190.4 943.6H203.64V946.7H190.4ZM190.4 946.7H197.02V949.8H190.4ZM200.33 946.7H203.64V949.8H200.33ZM190.4 949.8H197.02V952.9H190.4ZM200.33 949.8H203.64V952.9H200.33ZM190.4 952.9H197.02V956H190.4ZM200.33 952.9H203.64V956H200.33ZM206.95 943.6H213.57V946.7H206.95ZM216.88 943.6H220.19V946.7H216.88ZM206.95 946.7H213.57V949.8H206.95ZM216.88 946.7H220.19V949.8H216.88ZM206.95 949.8H213.57V952.9H206.95ZM216.88 949.8H220.19V952.9H216.88ZM206.95 952.9H220.19V956H206.95ZM223.5 943.6H236.74V946.7H223.5ZM223.5 946.7H230.12V949.8H223.5ZM223.5 949.8H230.12V952.9H223.5ZM223.5 952.9H236.74V956H223.5ZM230.12 947.63H232.93V949.34H230.12Z" fill="#f2f2f2" />
<rect x="335.65" y="925.65" width="316.9" height="57.5" fill="url(#gRecFill)" stroke="#3cb0c0" stroke-width="2.1" />
<path d="M385.3 946.8H398.86V950.05H385.3ZM385.3 950.05H392.08V953.3H385.3ZM395.47 950.05H398.86V953.3H395.47ZM385.3 953.3H395.47V956.55H385.3ZM385.3 956.55H392.08V959.8H385.3ZM395.47 956.55H398.86V959.8H395.47ZM402.25 946.8H415.81V950.05H402.25ZM402.25 950.05H409.03V953.3H402.25ZM402.25 953.3H409.03V956.55H402.25ZM402.25 956.55H415.81V959.8H402.25ZM409.03 951.02H411.91V952.81H409.03ZM419.2 946.8H425.98V950.05H419.2ZM429.37 946.8H432.76V950.05H429.37ZM436.15 946.8H439.54V950.05H436.15ZM419.2 950.05H425.98V953.3H419.2ZM429.37 950.05H432.76V953.3H429.37ZM436.15 950.05H439.54V953.3H436.15ZM419.2 953.3H425.98V956.55H419.2ZM429.37 953.3H432.76V956.55H429.37ZM436.15 953.3H439.54V956.55H436.15ZM419.2 956.55H439.54V959.8H419.2ZM442.93 946.8H456.49V950.05H442.93ZM442.93 950.05H449.71V953.3H442.93ZM453.1 950.05H456.49V953.3H453.1ZM442.93 953.3H456.49V956.55H442.93ZM442.93 956.55H449.71V959.8H442.93ZM453.1 956.55H456.49V959.8H453.1ZM459.88 946.8H473.44V950.05H459.88ZM459.88 950.05H466.66V953.3H459.88ZM470.05 950.05H473.44V953.3H470.05ZM459.88 953.3H470.05V956.55H459.88ZM459.88 956.55H466.66V959.8H459.88ZM470.05 956.55H473.44V959.8H470.05ZM476.83 946.8H487V950.05H476.83ZM476.83 950.05H483.61V953.3H476.83ZM487 950.05H490.39V953.3H487ZM476.83 953.3H483.61V956.55H476.83ZM487 953.3H490.39V956.55H487ZM476.83 956.55H487V959.8H476.83ZM500.56 946.8H514.12V950.05H500.56ZM500.56 950.05H507.34V953.3H500.56ZM510.73 950.05H514.12V953.3H510.73ZM500.56 953.3H510.73V956.55H500.56ZM500.56 956.55H507.34V959.8H500.56ZM510.73 956.55H514.12V959.8H510.73ZM517.51 946.8H531.07V950.05H517.51ZM517.51 950.05H524.29V953.3H517.51ZM517.51 953.3H524.29V956.55H517.51ZM517.51 956.55H531.07V959.8H517.51ZM524.29 951.02H527.17V952.81H524.29ZM534.46 946.8H548.02V950.05H534.46ZM534.46 950.05H541.24V953.3H534.46ZM534.46 953.3H541.24V956.55H534.46ZM534.46 956.55H548.02V959.8H534.46ZM551.41 946.8H558.19V950.05H551.41ZM561.58 946.8H564.97V950.05H561.58ZM551.41 950.05H558.19V953.3H551.41ZM561.58 950.05H564.97V953.3H561.58ZM551.41 953.3H564.97V956.55H551.41ZM554.8 956.55H561.58V959.8H554.8ZM568.36 946.8H581.92V950.05H568.36ZM568.36 950.05H575.14V953.3H568.36ZM568.36 953.3H575.14V956.55H568.36ZM568.36 956.55H581.92V959.8H568.36ZM585.31 946.8H592.09V950.05H585.31ZM585.31 950.05H592.09V953.3H585.31ZM585.31 953.3H592.09V956.55H585.31ZM585.31 956.55H598.87V959.8H585.31ZM602.26 946.8H609.04V950.05H602.26ZM602.26 950.05H609.04V953.3H602.26ZM602.26 953.3H609.04V956.55H602.26ZM602.26 956.55H609.04V959.8H602.26ZM612.43 946.8H625.99V950.05H612.43ZM612.43 950.05H619.21V953.3H612.43ZM622.6 950.05H625.99V953.3H622.6ZM612.43 953.3H619.21V956.55H612.43ZM622.6 953.3H625.99V956.55H622.6ZM612.43 956.55H619.21V959.8H612.43ZM622.6 956.55H625.99V959.8H622.6ZM629.38 946.8H642.94V950.05H629.38ZM629.38 950.05H636.16V953.3H629.38ZM629.38 953.3H636.16V956.55H629.38ZM639.55 953.3H642.94V956.55H639.55ZM629.38 956.55H642.94V959.8H629.38Z" fill="#2ec3da" />
<polygon points="366,942.04 372.34,946.03 372.34,951.37 366,955.36 359.66,951.37 359.66,946.03" fill="#2a9a98" stroke="#a8c4c4" stroke-width="1.2" stroke-linejoin="round"/>
<polygon points="371.6,949.54 377.74,953.42 377.74,958.58 371.6,962.46 365.46,958.58 365.46,953.42" fill="#2a9a98" stroke="#a8c4c4" stroke-width="1.2" stroke-linejoin="round"/>
<polygon points="358.7,951.21 365.92,955.77 365.92,961.83 358.7,966.38 351.49,961.83 351.49,955.77" fill="#2a9a98" stroke="#a8c4c4" stroke-width="1.2" stroke-linejoin="round"/>
<path d="M818.2 968.6H829.16V971.55H818.2ZM818.2 971.55H823.68V974.5H818.2ZM818.2 974.5H823.68V977.45H818.2ZM826.42 974.5H829.16V977.45H826.42ZM818.2 977.45H829.16V980.4H818.2ZM830.12 968.6H835.6V971.55H830.12ZM830.12 971.55H835.6V974.5H830.12ZM830.12 974.5H835.6V977.45H830.12ZM830.12 977.45H835.6V980.4H830.12ZM836.56 968.6H847.52V971.55H836.56ZM836.56 971.55H842.04V974.5H836.56ZM836.56 974.5H842.04V977.45H836.56ZM844.78 974.5H847.52V977.45H844.78ZM836.56 977.45H847.52V980.4H836.56ZM848.48 968.6H859.44V971.55H848.48ZM848.48 971.55H853.96V974.5H848.48ZM856.7 971.55H859.44V974.5H856.7ZM848.48 974.5H859.44V977.45H848.48ZM848.48 977.45H853.96V980.4H848.48ZM856.7 977.45H859.44V980.4H856.7ZM860.4 968.6H865.88V971.55H860.4ZM868.62 968.6H871.36V971.55H868.62ZM860.4 971.55H865.88V974.5H860.4ZM868.62 971.55H871.36V974.5H868.62ZM860.4 974.5H865.88V977.45H860.4ZM868.62 974.5H871.36V977.45H868.62ZM860.4 977.45H868.62V980.4H860.4ZM872.31 968.6H883.27V971.55H872.31ZM872.31 971.55H877.79V974.5H872.31ZM872.31 974.5H877.79V977.45H872.31ZM872.31 977.45H883.27V980.4H872.31ZM877.79 972.44H880.12V974.06H877.79ZM884.23 968.6H895.19V971.55H884.23ZM884.23 971.55H889.71V974.5H884.23ZM892.45 971.55H895.19V974.5H892.45ZM884.23 974.5H892.45V977.45H884.23ZM884.23 977.45H889.71V980.4H884.23ZM892.45 977.45H895.19V980.4H892.45ZM896.15 968.6H907.11V971.55H896.15ZM896.15 971.55H901.63V974.5H896.15ZM904.37 974.5H907.11V977.45H904.37ZM896.15 977.45H907.11V980.4H896.15ZM908.07 968.6H919.03V971.55H908.07ZM908.07 971.55H913.55V974.5H908.07ZM908.07 974.5H913.55V977.45H908.07ZM908.07 977.45H919.03V980.4H908.07ZM913.55 972.44H915.88V974.06H913.55Z" fill="#5a1838" stroke="#5a1838" stroke-width="2.6" stroke-linejoin="round" transform="translate(0 1.3)"/>
<path d="M818.2 968.6H829.16V971.55H818.2ZM818.2 971.55H823.68V974.5H818.2ZM818.2 974.5H823.68V977.45H818.2ZM826.42 974.5H829.16V977.45H826.42ZM818.2 977.45H829.16V980.4H818.2ZM830.12 968.6H835.6V971.55H830.12ZM830.12 971.55H835.6V974.5H830.12ZM830.12 974.5H835.6V977.45H830.12ZM830.12 977.45H835.6V980.4H830.12ZM836.56 968.6H847.52V971.55H836.56ZM836.56 971.55H842.04V974.5H836.56ZM836.56 974.5H842.04V977.45H836.56ZM844.78 974.5H847.52V977.45H844.78ZM836.56 977.45H847.52V980.4H836.56ZM848.48 968.6H859.44V971.55H848.48ZM848.48 971.55H853.96V974.5H848.48ZM856.7 971.55H859.44V974.5H856.7ZM848.48 974.5H859.44V977.45H848.48ZM848.48 977.45H853.96V980.4H848.48ZM856.7 977.45H859.44V980.4H856.7ZM860.4 968.6H865.88V971.55H860.4ZM868.62 968.6H871.36V971.55H868.62ZM860.4 971.55H865.88V974.5H860.4ZM868.62 971.55H871.36V974.5H868.62ZM860.4 974.5H865.88V977.45H860.4ZM868.62 974.5H871.36V977.45H868.62ZM860.4 977.45H868.62V980.4H860.4ZM872.31 968.6H883.27V971.55H872.31ZM872.31 971.55H877.79V974.5H872.31ZM872.31 974.5H877.79V977.45H872.31ZM872.31 977.45H883.27V980.4H872.31ZM877.79 972.44H880.12V974.06H877.79ZM884.23 968.6H895.19V971.55H884.23ZM884.23 971.55H889.71V974.5H884.23ZM892.45 971.55H895.19V974.5H892.45ZM884.23 974.5H892.45V977.45H884.23ZM884.23 977.45H889.71V980.4H884.23ZM892.45 977.45H895.19V980.4H892.45ZM896.15 968.6H907.11V971.55H896.15ZM896.15 971.55H901.63V974.5H896.15ZM904.37 974.5H907.11V977.45H904.37ZM896.15 977.45H907.11V980.4H896.15ZM908.07 968.6H919.03V971.55H908.07ZM908.07 971.55H913.55V974.5H908.07ZM908.07 974.5H913.55V977.45H908.07ZM908.07 977.45H919.03V980.4H908.07ZM913.55 972.44H915.88V974.06H913.55Z" fill="#2a0818" stroke="#2a0818" stroke-width="2.2" stroke-linejoin="round"/>
<path d="M818.2 968.6H829.16V971.55H818.2ZM818.2 971.55H823.68V974.5H818.2ZM818.2 974.5H823.68V977.45H818.2ZM826.42 974.5H829.16V977.45H826.42ZM818.2 977.45H829.16V980.4H818.2ZM830.12 968.6H835.6V971.55H830.12ZM830.12 971.55H835.6V974.5H830.12ZM830.12 974.5H835.6V977.45H830.12ZM830.12 977.45H835.6V980.4H830.12ZM836.56 968.6H847.52V971.55H836.56ZM836.56 971.55H842.04V974.5H836.56ZM836.56 974.5H842.04V977.45H836.56ZM844.78 974.5H847.52V977.45H844.78ZM836.56 977.45H847.52V980.4H836.56ZM848.48 968.6H859.44V971.55H848.48ZM848.48 971.55H853.96V974.5H848.48ZM856.7 971.55H859.44V974.5H856.7ZM848.48 974.5H859.44V977.45H848.48ZM848.48 977.45H853.96V980.4H848.48ZM856.7 977.45H859.44V980.4H856.7ZM860.4 968.6H865.88V971.55H860.4ZM868.62 968.6H871.36V971.55H868.62ZM860.4 971.55H865.88V974.5H860.4ZM868.62 971.55H871.36V974.5H868.62ZM860.4 974.5H865.88V977.45H860.4ZM868.62 974.5H871.36V977.45H868.62ZM860.4 977.45H868.62V980.4H860.4ZM872.31 968.6H883.27V971.55H872.31ZM872.31 971.55H877.79V974.5H872.31ZM872.31 974.5H877.79V977.45H872.31ZM872.31 977.45H883.27V980.4H872.31ZM877.79 972.44H880.12V974.06H877.79ZM884.23 968.6H895.19V971.55H884.23ZM884.23 971.55H889.71V974.5H884.23ZM892.45 971.55H895.19V974.5H892.45ZM884.23 974.5H892.45V977.45H884.23ZM884.23 977.45H889.71V980.4H884.23ZM892.45 977.45H895.19V980.4H892.45ZM896.15 968.6H907.11V971.55H896.15ZM896.15 971.55H901.63V974.5H896.15ZM904.37 974.5H907.11V977.45H904.37ZM896.15 977.45H907.11V980.4H896.15ZM908.07 968.6H919.03V971.55H908.07ZM908.07 971.55H913.55V974.5H908.07ZM908.07 974.5H913.55V977.45H908.07ZM908.07 977.45H919.03V980.4H908.07ZM913.55 972.44H915.88V974.06H913.55Z" fill="url(#gLogo)"/>
</svg>
</body></html>
